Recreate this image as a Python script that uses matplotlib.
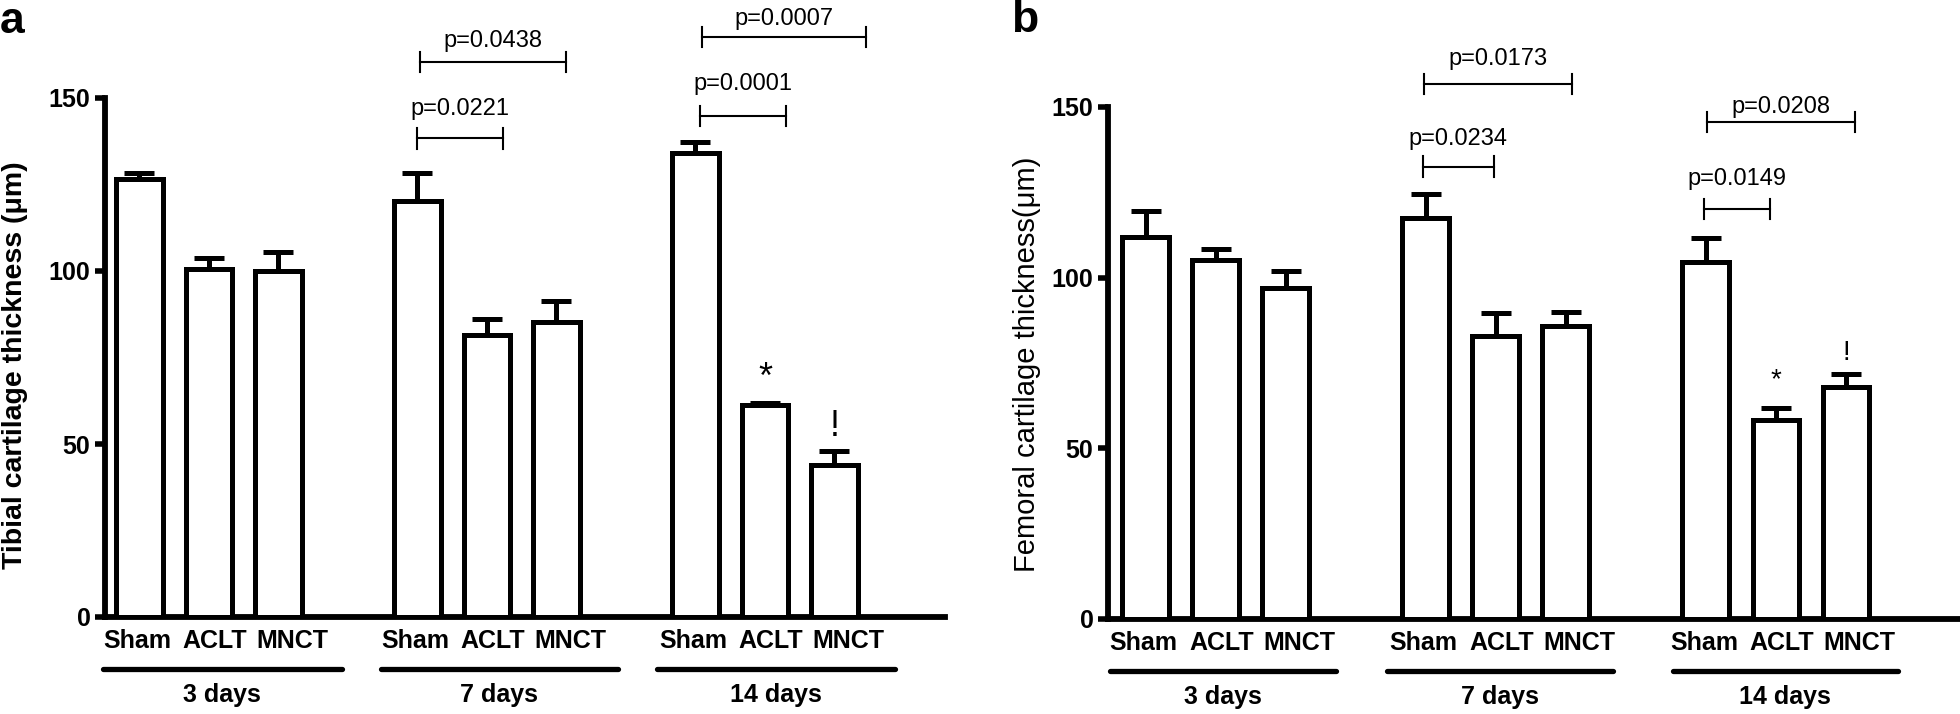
import matplotlib
matplotlib.use("Agg")
import matplotlib.pyplot as plt
import matplotlib.transforms as mtransforms

# ---------------- data ----------------
groups = ["Sham", "ACLT", "MNCT"]
days = ["3 days", "7 days", "14 days"]
positions = [0, 1, 2, 4, 5, 6, 8, 9, 10]
tick_labels = groups * 3

tibial_mean = [126.6, 100.7, 100.0, 120.1, 81.6, 85.2, 134.0, 61.2, 43.8]
tibial_err = [1.8, 3.0, 5.4, 8.2, 4.6, 6.2, 3.4, 0.6, 4.2]
tibial_marks = [("*", 9, 69.0), ("!", 10, 55.0)]
# (x_start, x_end, bracket value, text baseline value, label)
tibial_brackets = [(4.0, 5.23, 138.4, 145.1, "p=0.0221"),
                   (4.03, 6.14, 160.4, 164.7, "p=0.0438"),
                   (8.06, 9.30, 144.8, 152.3, "p=0.0001"),
                   (8.09, 10.45, 167.6, 171.1, "p=0.0007")]

femoral_mean = [112.0, 105.2, 96.9, 117.6, 83.0, 85.9, 104.5, 58.3, 68.1]
femoral_err = [7.6, 3.2, 5.0, 6.9, 6.6, 4.0, 7.0, 3.6, 3.8]
femoral_marks = [("*", 9, 70.0), ("!", 10, 78.0)]
femoral_brackets = [(3.96, 4.97, 132.5, 138.9, "p=0.0234"),
                    (3.97, 6.09, 156.7, 162.3, "p=0.0173"),
                    (7.97, 8.91, 120.1, 127.2, "p=0.0149"),
                    (8.01, 10.13, 145.6, 148.3, "p=0.0208")]

group_lines_a = [(-0.525, 2.91), (3.47, 6.88), (7.45, 10.87)]
group_lines_b = [(-0.51, 2.71), (3.44, 6.67), (7.53, 10.74)]

plt.rcParams["font.family"] = ["Liberation Sans", "DejaVu Sans"]

fig = plt.figure(figsize=(19.6, 7.14), dpi=100)
W, H = 1960, 714


def make_axes(left_px, right_px, top_px, bottom_px):
    return fig.add_axes([left_px / W, 1 - bottom_px / H,
                         (right_px - left_px) / W, (bottom_px - top_px) / H])


def draw_panel(ax, means, errs, marks, brackets, glines, ylabel, ylabel_bold,
               ylabel_size, xlim, label_xy, mark_size):
    lw = 3.6
    ax.bar(positions, means, width=0.67, color="white", edgecolor="black",
           linewidth=lw, zorder=3)
    ax.errorbar(positions, means, yerr=[[0] * len(errs), errs], fmt="none",
                ecolor="black", elinewidth=lw, capsize=10.5, capthick=lw, zorder=2)
    ax.set_xlim(*xlim)
    ax.set_ylim(0, 150)
    ax.set_yticks([0, 50, 100, 150])
    ax.set_xticks([])
    ax.tick_params(axis="y", length=7, width=4.0, labelsize=18, pad=3.5)
    for t in ax.get_yticklabels():
        t.set_fontweight("bold")
    for s in ["top", "right"]:
        ax.spines[s].set_visible(False)
    for s in ["left", "bottom"]:
        ax.spines[s].set_linewidth(4.2)
    ax.set_ylabel(ylabel, fontsize=ylabel_size,
                  fontweight="bold" if ylabel_bold else "normal", va="center")
    ax.yaxis.set_label_coords(*label_xy)

    # category labels under the bars
    shifts = [-1.5, 4, 10]
    for i, (p, lab) in enumerate(zip(positions, tick_labels)):
        ax.annotate(lab, (p, 0), xytext=(shifts[i % 3], -17), textcoords="offset points",
                    ha="center", va="center", fontsize=18, fontweight="bold",
                    annotation_clip=False)

    # significance marks
    for mk, p, y in marks:
        ax.text(p, y, mk, ha="center", va="center", fontsize=mark_size, clip_on=False)

    # p-value brackets
    for x0, x1, y, ty, txt in brackets:
        ax.plot([x0, x1], [y, y], color="black", lw=1.5, clip_on=False)
        for xe in (x0, x1):
            ax.plot([xe, xe], [y - 3.0, y + 3.0], color="black", lw=1.5, clip_on=False)
        ax.text((x0 + x1) / 2, ty, txt, ha="center", va="baseline", fontsize=17,
                clip_on=False)

    # group underlines and labels
    for (g0, g1), d in zip(glines, days):
        ln = ax.plot([g0, g1], [0, 0], color="black", lw=3.8, solid_capstyle="round",
                     clip_on=False)[0]
        ln.set_transform(ax.transData + mtransforms.ScaledTranslation(0, -37.5 / 72,
                                                                        fig.dpi_scale_trans))
        ax.annotate(d, ((g0 + g1) / 2, 0), xytext=(0, -56), textcoords="offset points",
                    ha="center", va="center", fontsize=18, fontweight="bold",
                    annotation_clip=False)


ax_a = make_axes(105, 945, 98, 617)
draw_panel(ax_a, tibial_mean, tibial_err, tibial_marks, tibial_brackets, group_lines_a,
           "Tibial cartilage thickness (\u03bcm)", True, 20.5, (-0.496, 11.59),
           (-0.107, 0.485), 26)

ax_b = make_axes(1108, 1958, 107, 619)
draw_panel(ax_b, femoral_mean, femoral_err, femoral_marks, femoral_brackets, group_lines_b,
           "Femoral cartilage thickness(\u03bcm)", False, 21, (-0.54, 11.6),
           (-0.095, 0.498), 20)

fig.text(0.0, 1 - 1 / H, "a", fontsize=32, fontweight="bold", ha="left", va="top")
fig.text(1011 / W, 1 - 0 / H, "b", fontsize=32, fontweight="bold", ha="left", va="top")

fig.savefig("out.png", dpi=100, facecolor="white")
